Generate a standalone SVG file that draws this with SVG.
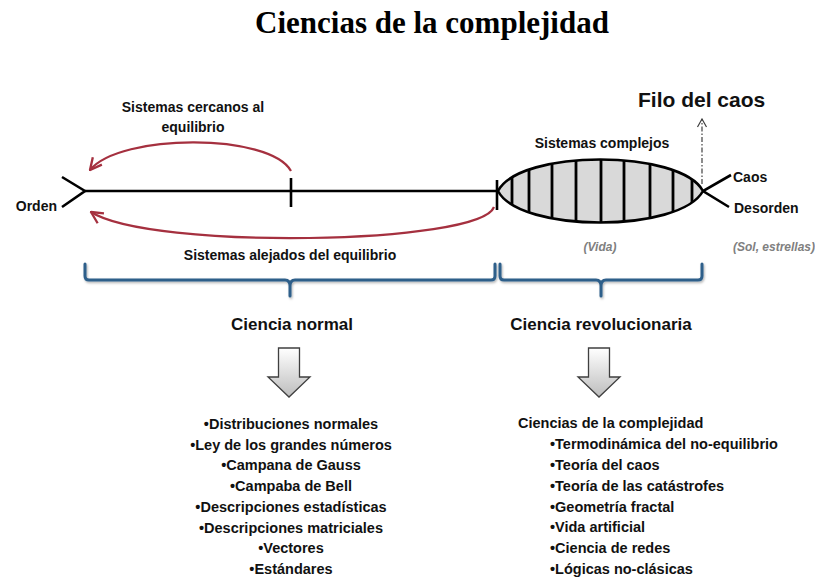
<svg xmlns="http://www.w3.org/2000/svg" width="815" height="583" viewBox="0 0 815 583">
<style>
.t{font-family:"Liberation Sans",Arial,sans-serif;font-weight:bold;fill:#111;}
.s14{font-size:14px;}
.s145{font-size:14.5px;}
.s17{font-size:17px;}
.c{text-anchor:middle;}
.gr{font-size:12px;font-style:italic;fill:#808080;}
.blk{stroke:#000;stroke-width:2.6;fill:none;}
.red{stroke:#a5303f;stroke-width:2.2;fill:none;}
.blue{stroke:#2f5f8a;stroke-width:3;fill:none;stroke-linecap:round;stroke-linejoin:round;}
.garrow{fill:url(#gg);stroke:#3f3f3f;stroke-width:1.3;}
</style>
<defs>
<marker id="oa" markerUnits="userSpaceOnUse" markerWidth="14" markerHeight="14" viewBox="0 0 12 12" refX="11" refY="6" orient="auto">
<path d="M1,1 L11,6 L1,11" fill="none" stroke="#a5303f" stroke-width="2"/>
</marker>
<marker id="da" markerUnits="userSpaceOnUse" markerWidth="12" markerHeight="12" viewBox="0 0 12 12" refX="11" refY="6" orient="auto">
<path d="M3,1.5 L11,6 L3,10.5" fill="none" stroke="#404040" stroke-width="1.2"/>
</marker>
<linearGradient id="gg" x1="0" y1="0" x2="0" y2="1">
<stop offset="0" stop-color="#ffffff"/>
<stop offset="1" stop-color="#bdbdbd"/>
</linearGradient>
<clipPath id="lens">
<path d="M498,191 C520,149 680,149 703,191 C680,233 520,233 498,191 Z"/>
</clipPath>
<filter id="sh" x="-5%" y="-30%" width="110%" height="160%">
<feDropShadow dx="1" dy="1.5" stdDeviation="1" flood-color="#000" flood-opacity="0.3"/>
</filter>
</defs>
<rect width="815" height="583" fill="#fff"/>

<g id="title">
<text x="432" y="33" style="font-family:'Liberation Serif','Times New Roman',serif;font-weight:bold;font-size:31px;text-anchor:middle;fill:#000">Ciencias de la complejidad</text>
</g>

<g id="connectors">
<line class="blk" x1="85" y1="191" x2="497" y2="191"/>
<polyline class="blk" points="62,177 85,191 62,207"/>
<line class="blk" x1="291" y1="178" x2="291" y2="207"/>
<line class="blk" x1="497" y1="180" x2="497" y2="210"/>
<polyline class="blk" points="731,175 703,191 729,207"/>
<path class="red" d="M291,171 C270,133 120,133 90,170" marker-end="url(#oa)"/>
<path class="red" d="M494,207 C480,245 150,250 91,212" marker-end="url(#oa)"/>
<path d="M702,184 L702,119" stroke="#404040" stroke-width="1.2" stroke-dasharray="5,2,1.5,2" fill="none" marker-end="url(#da)"/>
<g filter="url(#sh)">
<path class="blue" d="M85,264 V276 Q85,280 89,280 H285 Q290,280 290,286 V296 M290,286 Q290,280 295,280 H491 Q495,280 495,276 V264"/>
<path class="blue" d="M500,264 V276 Q500,280 504,280 H596 Q601,280 601,286 V296 M601,286 Q601,280 606,280 H698 Q702,280 702,276 V264"/>
</g>
</g>

<g id="sistemas-complejos">
<path d="M498,191 C520,149 680,149 703,191 C680,233 520,233 498,191 Z" fill="#d9d9d9"/>
<g clip-path="url(#lens)" stroke="#000" stroke-width="2.8">
<line x1="512" y1="150" x2="512" y2="232"/>
<line x1="529" y1="150" x2="529" y2="232"/>
<line x1="552" y1="150" x2="552" y2="232"/>
<line x1="576" y1="150" x2="576" y2="232"/>
<line x1="601" y1="150" x2="601" y2="232"/>
<line x1="624" y1="150" x2="624" y2="232"/>
<line x1="650" y1="150" x2="650" y2="232"/>
<line x1="673" y1="150" x2="673" y2="232"/>
<line x1="692" y1="150" x2="692" y2="232"/>
</g>
<path class="blk" d="M498,191 C520,149 680,149 703,191 C680,233 520,233 498,191 Z"/>
<text class="t s14 c" x="602" y="148">Sistemas complejos</text>
<text class="t gr c" x="600" y="251">(Vida)</text>
</g>

<g id="filo">
<text class="t" x="638" y="107" style="font-size:21px">Filo del caos</text>
</g>

<g id="orden"><text class="t s14" x="57" y="211" text-anchor="end">Orden</text></g>
<g id="caos"><text class="t s14" x="733" y="182">Caos</text></g>
<g id="desorden"><text class="t s14" x="734" y="213">Desorden</text>
<text class="t gr" x="733" y="251">(Sol, estrellas)</text></g>

<g id="cercanos">
<text class="t s14 c" x="193" y="112">Sistemas cercanos al</text>
<text class="t s14 c" x="193" y="132">equilibrio</text>
</g>
<g id="alejados">
<text class="t s14 c" x="290" y="260">Sistemas alejados del equilibrio</text>
</g>

<g id="ciencia-normal">
<text class="t s17 c" x="292" y="330">Ciencia normal</text>
<path class="garrow" d="M278.5,348 H299.5 V377 H310 L289,397 L268,377 H278.5 Z"/>
<g class="t s145 c">
<text x="291" y="429">•Distribuciones normales</text>
<text x="291" y="449.7">•Ley de los grandes números</text>
<text x="291" y="470.4">•Campana de Gauss</text>
<text x="291" y="491.1">•Campaba de Bell</text>
<text x="291" y="511.8">•Descripciones estadísticas</text>
<text x="291" y="532.5">•Descripciones matriciales</text>
<text x="291" y="553.2">•Vectores</text>
<text x="291" y="574">•Estándares</text>
</g>
</g>

<g id="ciencia-revolucionaria">
<text class="t s17 c" x="601" y="330">Ciencia revolucionaria</text>
<path class="garrow" d="M588.5,348 H609.5 V377 H620 L599,397 L578,377 H588.5 Z"/>
<g class="t s145">
<text x="518" y="428">Ciencias de la complejidad</text>
<text x="550" y="449">•Termodinámica del no-equilibrio</text>
<text x="550" y="469.9">•Teoría del caos</text>
<text x="550" y="490.7">•Teoría de las catástrofes</text>
<text x="550" y="511.6">•Geometría fractal</text>
<text x="550" y="532.4">•Vida artificial</text>
<text x="550" y="553.3">•Ciencia de redes</text>
<text x="550" y="574">•Lógicas no-clásicas</text>
</g>
</g>
</svg>
